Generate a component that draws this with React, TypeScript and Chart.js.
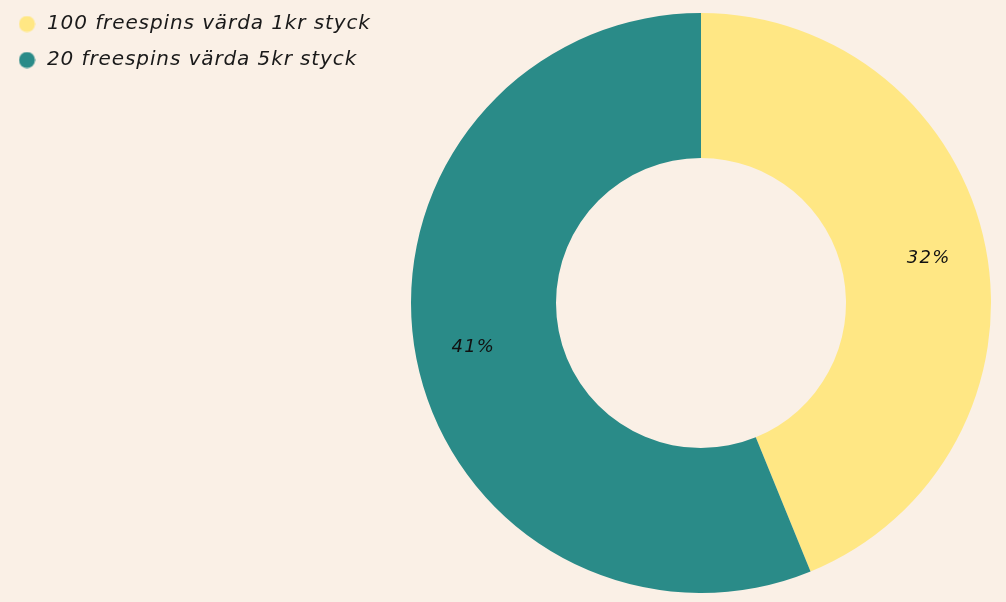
import React, { useEffect, useRef } from "react";
import { Chart, registerables } from "chart.js";

Chart.register(...registerables);

const labels = ["100 freespins värda 1kr styck", "20 freespins värda 5kr styck"];
const values = [32, 41];
const colors = ["#FFE784", "#2A8B88"];
const BG = "#FAF0E6";

function dot(color: string) {
  const c = document.createElement("canvas");
  c.width = 17;
  c.height = 17;
  const g = c.getContext("2d")!;
  g.fillStyle = color;
  g.beginPath();
  g.arc(8.5, 8.5, 8, 0, Math.PI * 2);
  g.fill();
  return c;
}

const spacingPlugin = {
  id: "letterSpacing",
  beforeLayout(chart: any) {
    chart.ctx.letterSpacing = "0.9px";
  },
  afterLayout(chart: any) {
    const lg = chart.legend;
    if (lg) {
      const dy = -2 - lg.top;
      lg.top += dy;
      lg.bottom += dy;
      const dx = 1 - lg.left;
      lg.left += dx;
      lg.right += dx;
    }
    const ca = chart.chartArea;
    ca.left = 396;
    ca.right = 1006;
    ca.top = 13;
    ca.bottom = 593;
    ca.width = ca.right - ca.left;
    ca.height = ca.bottom - ca.top;
  },
  beforeDraw(chart: any) {
    chart.ctx.letterSpacing = "0.9px";
  },
};

const valueLabelPlugin = {
  id: "valueLabels",
  afterDatasetsDraw(chart: any) {
    const { ctx } = chart;
    const meta = chart.getDatasetMeta(0);
    ctx.save();
    ctx.letterSpacing = "1.2px";
    ctx.font = "italic 18px 'DejaVu Sans'";
    ctx.fillStyle = "#111";
    ctx.textAlign = "center";
    ctx.textBaseline = "middle";
    meta.data.forEach((arc: any, i: number) => {
      const p = arc.getProps(["x", "y", "startAngle", "endAngle", "innerRadius", "outerRadius"], true);
      const a = (p.startAngle + p.endAngle) / 2;
      const r = p.innerRadius + (p.outerRadius - p.innerRadius) * 0.6;
      ctx.fillText(values[i] + "%", p.x + Math.cos(a) * r, p.y + Math.sin(a) * r);
    });
    ctx.restore();
  },
};

export default function App() {
  const ref = useRef<HTMLCanvasElement>(null);
  useEffect(() => {
    if (!ref.current) return;
    const dots = colors.map(dot);
    const baseGen = (Chart as any).overrides.doughnut.plugins.legend.labels.generateLabels;
    const chart = new Chart(ref.current, {
      type: "doughnut",
      data: {
        labels,
        datasets: [
          {
            data: values,
            backgroundColor: colors,
            borderWidth: 0,
            hoverOffset: 0,
          },
        ],
      },
      options: {
        animation: false,
        responsive: true,
        maintainAspectRatio: false,
        cutout: "50%",
        layout: { padding: { top: 0, bottom: 0, left: 0, right: 0 } },
        plugins: {
          legend: {
            position: "left",
            align: "start",
            labels: {
              usePointStyle: true,
              pointStyleWidth: 20,
              boxHeight: 11,
              padding: 16,
              color: "#1a1a1a",
              font: { family: "'DejaVu Sans'", size: 20, style: "italic" },
              generateLabels: (ch: any) =>
                baseGen(ch).map((it: any, i: number) => ({ ...it, pointStyle: dots[i] })),
            },
          },
          tooltip: { enabled: false },
        },
      },
      plugins: [spacingPlugin, valueLabelPlugin],
    });
    return () => chart.destroy();
  }, []);
  return (
    <div style={{ position: "fixed", left: 0, top: 0, width: 1006, height: 602, background: BG }}>
      <canvas ref={ref} />
    </div>
  );
}
